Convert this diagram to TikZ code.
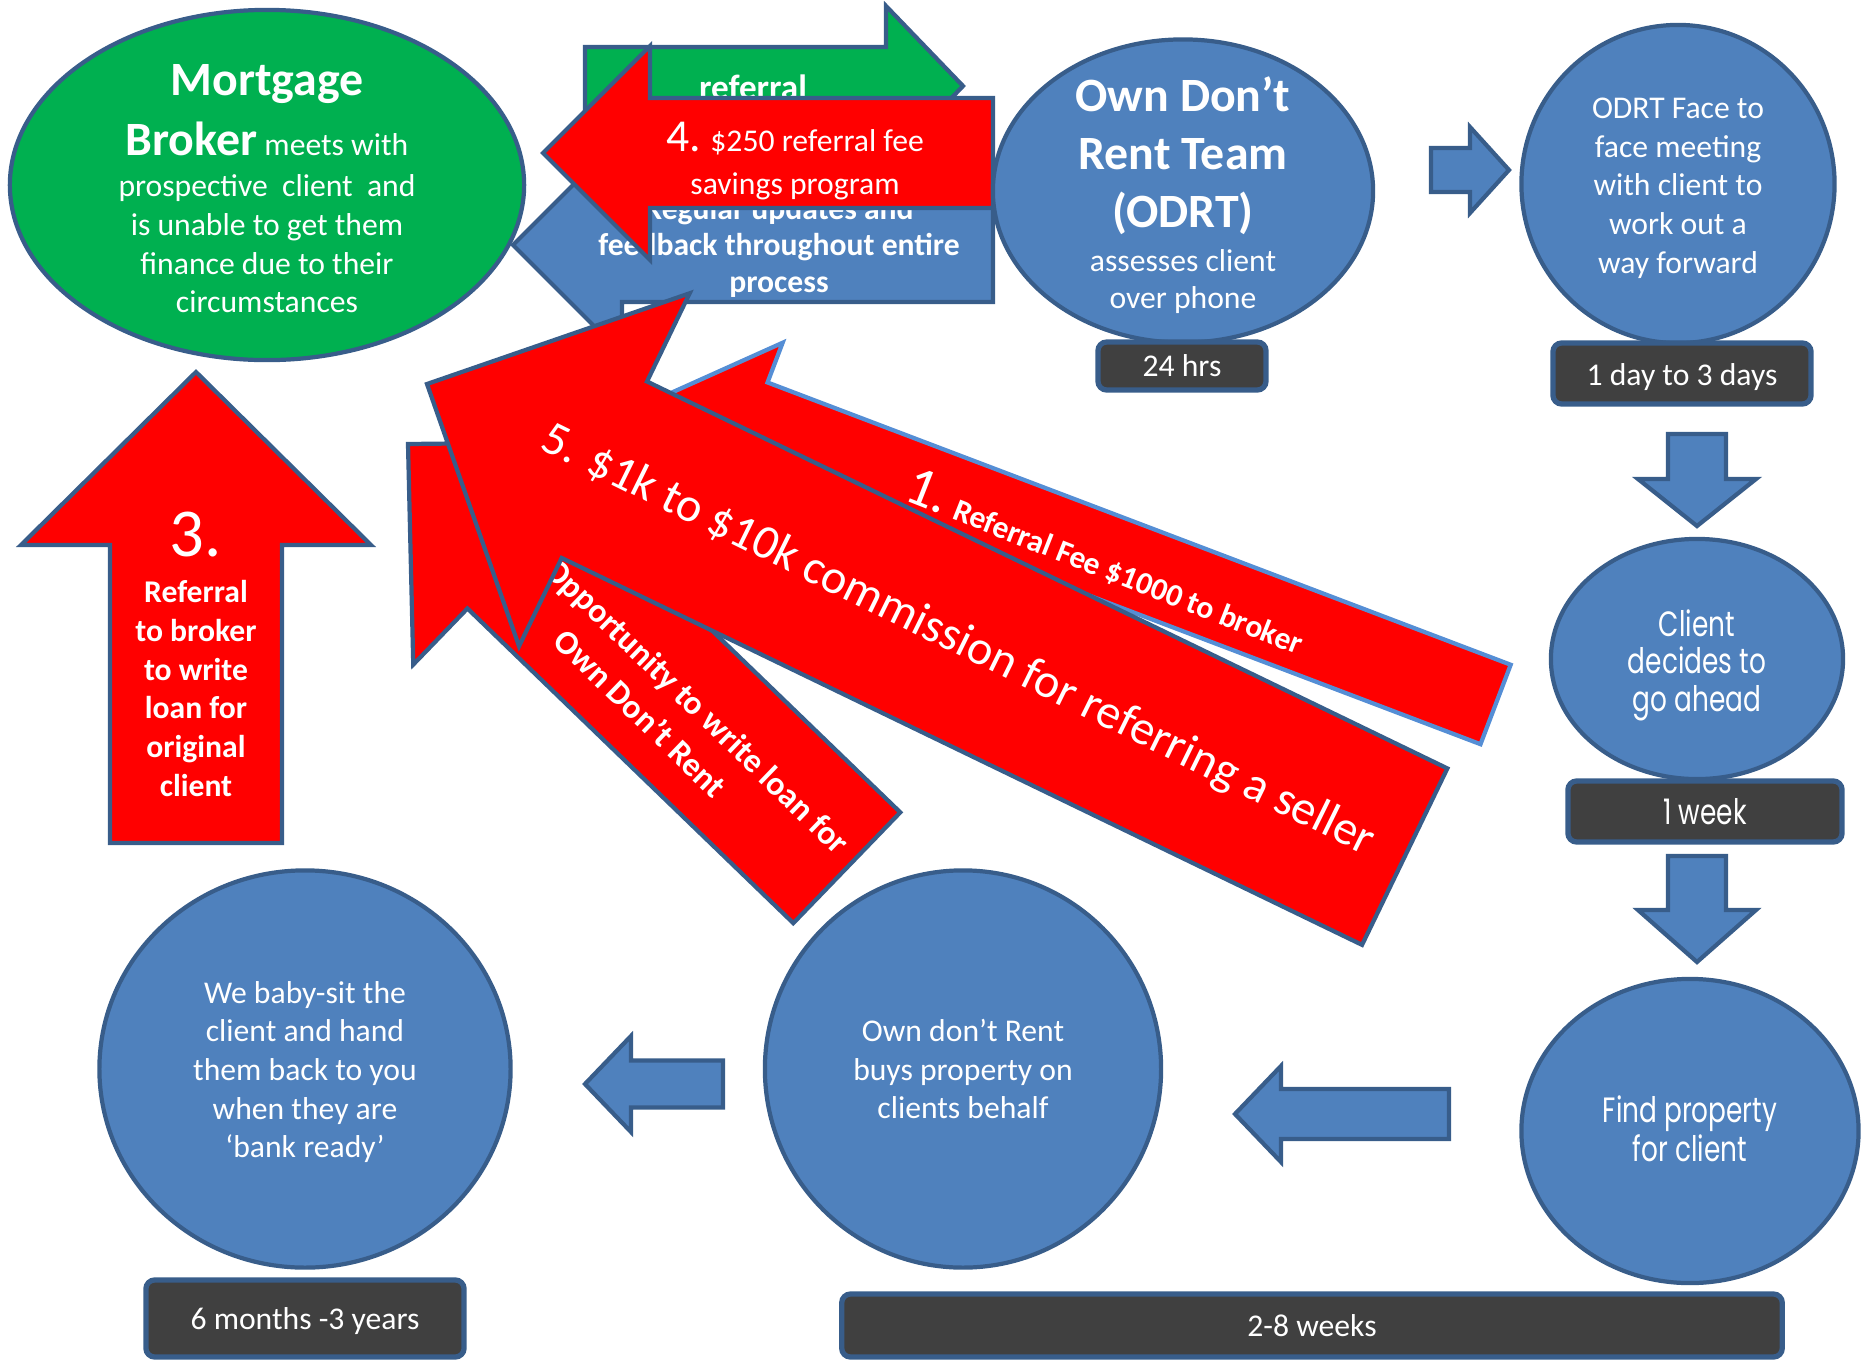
\documentclass[tikz,border=0pt]{standalone}
\usepackage{fontspec}
\setmainfont{Carlito}
\newfontfamily\gothic[FakeStretch=0.75]{Poppins}
\usetikzlibrary{shapes.geometric}
\definecolor{odBlue}{RGB}{79,129,189}
\definecolor{odEdge}{RGB}{56,93,138}
\definecolor{odLight}{RGB}{85,142,213}
\definecolor{odGreen}{RGB}{0,176,80}
\definecolor{odRed}{RGB}{255,0,0}
\definecolor{odDark}{RGB}{64,64,64}

\newcommand{\bigbold}{\bfseries\fontsize{13.6}{16}\selectfont}

% block arrow: style, tip, direction, head length, head half width, body half width, length
\newcommand{\blockarrow}[7]{%
  \draw[#1, shift={#2}, rotate=#3]
    (0,0) -- (-#4,#5) -- (-#4,#6) -- (-#7,#6) -- (-#7,-#6) -- (-#4,-#6) -- (-#4,-#5) -- cycle;
}

\begin{document}
\begin{tikzpicture}[x=0.01cm, y=-0.01cm, line join=miter,
  bubble/.style={ellipse, draw=odEdge, line width=1.2pt, fill=odBlue, text=white,
    align=center, inner sep=-0.5cm, font=\fontsize{9}{11}\selectfont},
  timebox/.style={rectangle, rounded corners=2.5pt, draw=odEdge, line width=1.5pt,
    fill=odDark, text=white, inner sep=0pt, font=\fontsize{9}{11}\selectfont},
  bluearrow/.style={draw=odEdge, line width=1.2pt, fill=odBlue},
  redarrow/.style={draw=odEdge, line width=1.2pt, fill=odRed},
  feearrow/.style={draw=odLight, line width=1.2pt, fill=odRed},
  greenarrow/.style={draw=odEdge, line width=1.2pt, fill=odGreen},
  arrowtext/.style={text=white, align=center, inner sep=0pt, font=\fontsize{9}{11}\selectfont}]
  \useasboundingbox (0,0) rectangle (1865,1366);

  % Mortgage broker
  \node[bubble, fill=odGreen, minimum width=5.14cm, minimum height=3.5cm] (broker) at (267,185) {};
  \node[arrowtext] (brokertext) at (267,189)
    {{\bigbold Mortgage}\\[4.1pt]{\bigbold Broker} meets with\\[0.8pt]prospective~ client~ and\\is unable to get them\\finance due to their\\circumstances};

  % Top arrows
  \blockarrow{greenarrow}{(963,86)}{0}{77}{80}{39}{378}
  \node[arrowtext, font=\bfseries\fontsize{10}{12}\selectfont] (referral) at (753,87) {referral};
  \blockarrow{bluearrow}{(513,245)}{180}{109}{109}{57}{480}
  \node[arrowtext, font=\bfseries\fontsize{9}{10.4}\selectfont] (updates) at (779,247)
    {Regular updates and\\feedback throughout entire\\process};
  \blockarrow{redarrow}{(543,153)}{180}{107}{107}{55}{450}
  \node[arrowtext] (savings) at (795,161)
    {{\fontsize{13}{13}\selectfont 4.} \$250 referral fee\\[1.2pt]savings program};

  % ODRT chain
  \node[bubble, minimum width=3.8cm, minimum height=3.03cm] (odrt) at (1183,191) {};
  \node[arrowtext] (odrttext) at (1183,195)
    {{\bigbold Own Don’t}\\[5.5pt]{\bigbold Rent Team}\\[5.5pt]{\bigbold (ODRT)}\\[1.4pt]assesses client\\[-0.5pt]over phone};
  \node[timebox, minimum width=1.68cm, minimum height=0.48cm] (hrs) at (1182,366) {24 hrs};
  \blockarrow{bluearrow}{(1509,170)}{0}{39}{43}{22}{78}
  \node[bubble, minimum width=3.13cm, minimum height=3.18cm] (face) at (1678,184) {};
  \node[arrowtext] (facetext) at (1678,188)
    {ODRT Face to\\face meeting\\with client to\\work out a\\way forward};
  \node[timebox, minimum width=2.58cm, minimum height=0.61cm] (days) at (1682,373.5) {};
  \node[arrowtext] at (1682,377) {1 day to 3 days};
  \blockarrow{bluearrow}{(1697,526)}{-90}{47}{59}{29}{92}
  \node[bubble, minimum width=2.92cm, minimum height=2.4cm] (decide) at (1697,659) {};
  \node[arrowtext, font=\gothic\fontsize{10}{10.7}\selectfont] (decidetext) at (1697,665)
    {Client\\decides to\\go ahead};
  \node[timebox, minimum width=2.74cm, minimum height=0.61cm, font=\gothic\fontsize{10}{11}\selectfont] (week) at (1705,811.5) {1 week};
  \blockarrow{bluearrow}{(1697,962)}{-90}{52}{59}{29}{106}
  \node[bubble, minimum width=3.37cm, minimum height=3.04cm] (find) at (1690,1131) {};
  \node[arrowtext, font=\gothic\fontsize{10}{11}\selectfont] (findtext) at (1690,1129)
    {Find property\\for client};
  \blockarrow{bluearrow}{(1235,1114)}{180}{46}{48}{25}{214}
  \node[bubble, minimum width=3.96cm, minimum height=3.97cm] (buys) at (963,1069)
    {Own don’t Rent\\buys property on\\clients behalf};
  \blockarrow{bluearrow}{(585,1084)}{180}{46}{48}{23.5}{138}
  \node[bubble, minimum width=4.11cm, minimum height=3.97cm] (babysit) at (305,1069) {};
  \node[arrowtext] (babysittext) at (305,1072)
    {We baby-sit the\\client and hand\\them back to you\\when they are\\‘bank ready’};
  \node[timebox, minimum width=3.18cm, minimum height=0.77cm] (months) at (305,1318.5) {};
  \node[arrowtext] at (305,1321) {6 months -3 years};
  \node[timebox, minimum width=9.4cm, minimum height=0.63cm] (weeks) at (1312,1325.5) {2-8 weeks};

  % Red arrows back to the broker
  \blockarrow{feearrow}{(673,392)}{159.2}{85}{85}{42.5}{880}
  \node[arrowtext, rotate=-21.5, font=\bfseries\fontsize{9}{11}\selectfont] (fee) at (1106,562)
    {{\mdseries\fontsize{16}{16}\selectfont 1.} Referral Fee \$1000 to broker};
  \blockarrow{redarrow}{(408,444)}{136}{157}{155}{77}{610}
  \node[arrowtext, rotate=-44, font=\bfseries\fontsize{9.6}{12.8}\selectfont] (loan) at (682,722)
    {Opportunity to write loan for\\Own Don’t Rent\hspace*{0.72cm}};
  \blockarrow{redarrow}{(196,372)}{90}{173}{175}{86}{471}
  \node[arrowtext, font=\bfseries\fontsize{9}{11}\selectfont] (original) at (196,654)
    {{\mdseries\fontsize{19.5}{20}\selectfont 3.}\\[2.2pt]Referral\\to broker\\to write\\loan for\\original\\client};
  \blockarrow{redarrow}{(427,384)}{154.2}{197}{196}{98}{1086}
  \node[arrowtext, rotate=-26.2, font=\fontsize{13.7}{16}\selectfont] (commission) at (958,641)
    {5. \$1k to \$10k commission for referring a seller};
\end{tikzpicture}
\end{document}
